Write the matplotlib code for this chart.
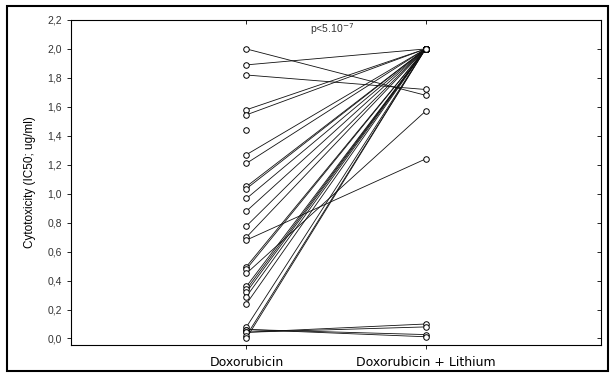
import matplotlib
matplotlib.use('Agg')
import matplotlib.pyplot as plt
from matplotlib.patches import Rectangle
from matplotlib.ticker import FuncFormatter

plt.rcParams['font.family'] = ['Liberation Sans', 'DejaVu Sans']

groups = ['Doxorubicin', 'Doxorubicin + Lithium']

# paired IC50 values (ug/ml), one entry per cell line
dox = [2.00, 1.89, 1.82, 1.58, 1.545, 1.27, 1.21, 1.05, 1.035, 0.967, 0.88,
       0.777, 0.70, 0.68, 0.497, 0.48, 0.45, 0.36, 0.34, 0.32, 0.29, 0.24,
       0.08, 0.062, 0.062, 0.043, 0.043, 0.02, 0.002]
dox_li = [1.68, 2.00, 1.72, 2.00, 2.00, 2.00, 2.00, 2.00, 2.00, 2.00, 2.00,
          2.00, 2.00, 1.24, 2.00, 2.00, 1.57, 2.00, 2.00, 2.00, 2.00, 2.00,
          2.00, 0.027, 0.012, 0.10, 0.08, 2.00, 2.00]
# measured with doxorubicin only
dox_unpaired = [1.44]

fig = plt.figure(figsize=(6.16, 3.76), dpi=100)
ax = fig.add_axes([71/616, 1-345/376, 530/616, 325/376])

for a, b in zip(dox, dox_li):
    ax.plot([1, 2], [a, b], color='#111111', lw=0.6, zorder=2)
mk = dict(mfc='white', mec='black', ms=4, mew=0.7, zorder=3, ls='none', marker='o')
ax.plot([1]*len(dox), dox, **mk)
ax.plot([2]*len(dox_li), dox_li, **mk)
ax.plot([1]*len(dox_unpaired), dox_unpaired, **mk)

ax.set_xlim(0.02, 2.98)
ax.set_ylim(-0.045, 2.2)
ax.set_xticks([1, 2])
ax.set_xticklabels(groups, fontsize=9, family='DejaVu Sans')
ax.set_yticks([i*0.2 for i in range(12)])
ax.yaxis.set_major_formatter(FuncFormatter(lambda v, p: f'{v:.1f}'.replace('.', ',')))
ax.tick_params(axis='y', labelsize=7.5, labelcolor='#333333', length=3, width=0.6)
ax.tick_params(axis='x', length=3, width=0.6, pad=5)
ax.tick_params(top=True, right=True)
for t in ax.xaxis.get_ticklines()[1::2]:
    t.set_marker(3)
for t in ax.yaxis.get_ticklines()[1::2]:
    t.set_marker(0)
for s in ax.spines.values():
    s.set_linewidth(0.8)

ax.set_ylabel('Cytotoxicity (IC50; ug/ml)', fontsize=8.5, labelpad=8)
ax.text(1.48, 2.11, 'p<5.10$^{-7}$', fontsize=7.5, ha='center', va='baseline', color='#333333')

fig.patches.append(Rectangle((7/616, 1-371/376), 601/616, 365/376, transform=fig.transFigure,
                             fill=False, edgecolor='black', lw=1.5))

fig.savefig('out.png', dpi=100)
